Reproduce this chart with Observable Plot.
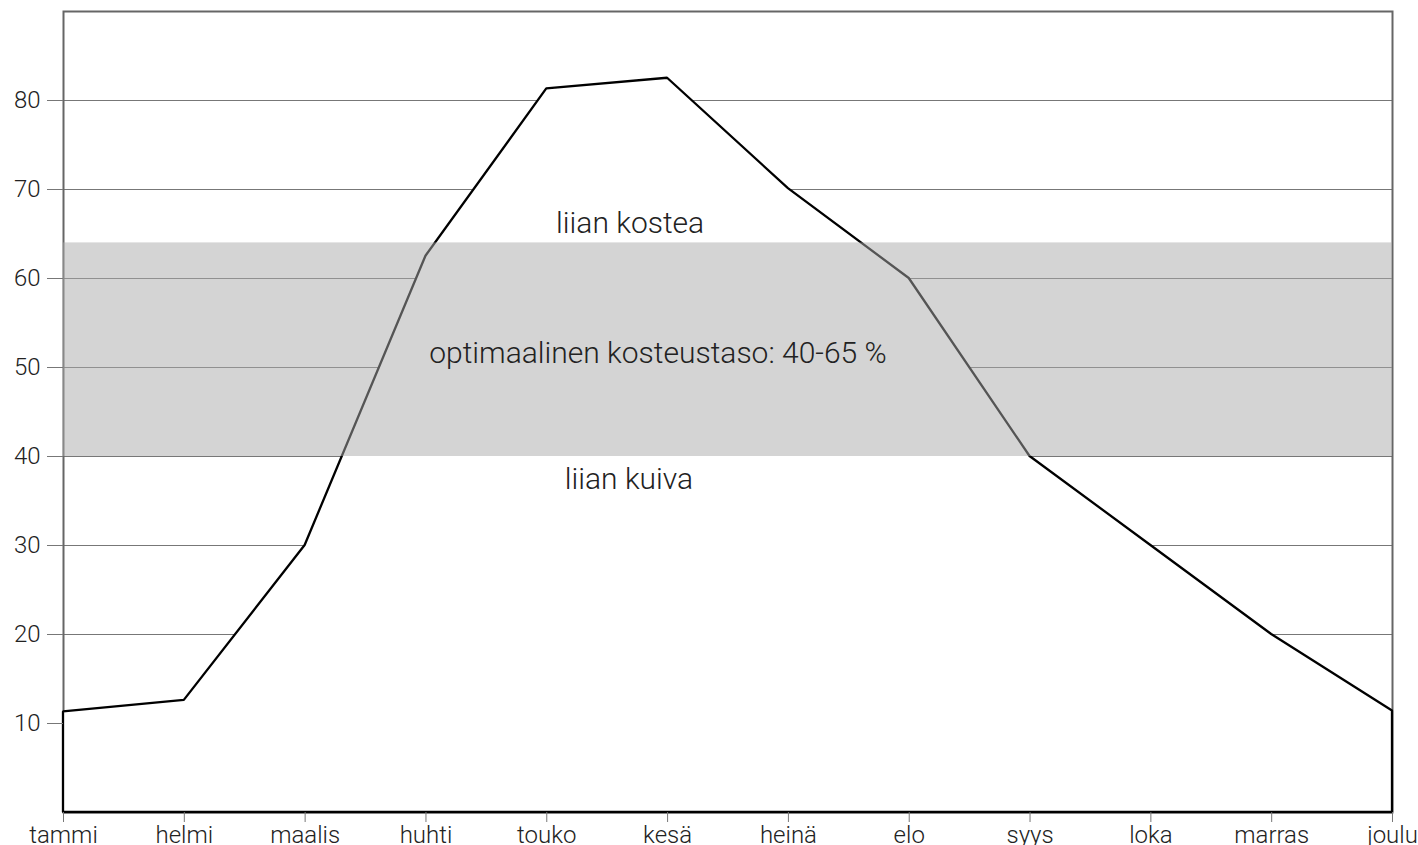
<!DOCTYPE html>
<html>
<head>
<meta charset="utf-8">
<script src="https://cdn.jsdelivr.net/npm/d3@7"></script>
<script src="https://cdn.jsdelivr.net/npm/@observablehq/plot@0.6"></script>
<style>
  html, body { margin: 0; padding: 0; background: #fff; }
  svg { display: block; }
  svg text { font-weight: 300; }
</style>
</head>
<body>
<div id="chart"></div>
<script>
const months = ["tammi","helmi","maalis","huhti","touko","kesä","heinä","elo","syys","loka","marras","joulu"];
const humidity = [11.3, 12.6, 30, 62.5, 81.3, 82.5, 70.1, 60, 40, 30, 20, 11.4];
const yTicks = [10, 20, 30, 40, 50, 60, 70, 80];
const bandLow = 40;
const bandHigh = 64;
const noteTexts = ["liian kostea", "optimaalinen kosteustaso: 40-65 %", "liian kuiva"];
const noteMonth = [4.69, 4.92, 4.68];
const noteValue = [66.2, 51.6, 37.4];

const data = months.map((m, i) => ({i, month: m, value: humidity[i]}));
const notes = noteTexts.map((t, k) => ({text: t, x: noteMonth[k], y: noteValue[k]}));

const chart = Plot.plot({
  width: 1418,
  height: 845,
  marginLeft: 63,
  marginRight: 26,
  marginTop: 11,
  marginBottom: 33,
  style: {fontFamily: "Roboto", fontSize: "24px", color: "#222", background: "#fff"},
  x: {type: "linear", domain: [0, months.length - 1]},
  y: {domain: [0, 90]},
  marks: [
    Plot.gridY(yTicks, {stroke: "#777", strokeOpacity: 1, strokeWidth: 1}),
    Plot.frame({stroke: "#666", strokeWidth: 2}),
    Plot.areaY(data, {x: "i", y: "value", fill: "white", stroke: "black", strokeWidth: 2.3, strokeLinejoin: "miter"}),
    Plot.rectY([{y1: bandLow, y2: bandHigh}], {y1: "y1", y2: "y2", fill: "#aaa", fillOpacity: 0.5}),
    Plot.axisY(yTicks, {tickSize: 16, tickPadding: 7, stroke: "#777", fontSize: 24, fill: "#222"}),
    Plot.axisX(d3.range(months.length), {tickSize: 10, tickPadding: 3, stroke: "#777", fontSize: 24, fill: "#222", tickFormat: i => months[i]}),
    Plot.text(notes, {x: "x", y: "y", text: "text", fontSize: 30, fill: "#222", textAnchor: "middle", lineAnchor: "middle"})
  ]
});
document.getElementById("chart").appendChild(chart);
</script>
</body>
</html>
